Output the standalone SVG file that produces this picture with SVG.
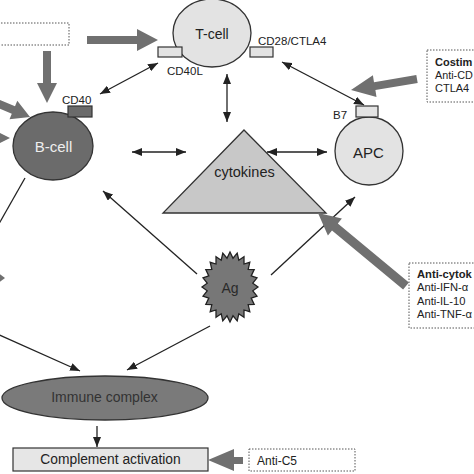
<svg xmlns="http://www.w3.org/2000/svg" width="474" height="474" viewBox="0 0 474 474">
<style>
text{font-family:"Liberation Sans",Arial,sans-serif;fill:#222}
.lbl{font-size:11.5px}
.c{text-anchor:middle}
.cell{stroke:#333;stroke-width:1.3}
.dot{fill:#fff;stroke:#555;stroke-width:1;stroke-dasharray:1.5 1.5}
.thin{stroke:#222;stroke-width:1.3;fill:none}
.gray{fill:#707070;stroke:none}
.box{stroke:#333;stroke-width:1.2}
.bt{font-size:11px}
.bt2{font-size:11.2px}
</style>
<defs>
<marker id="ah" viewBox="0 0 10 8" markerWidth="10" markerHeight="8" refX="10" refY="4" orient="auto-start-reverse" markerUnits="userSpaceOnUse">
<path d="M0,0 L10,4 L0,8 z" fill="#222"/>
</marker>
</defs>
<rect width="474" height="474" fill="#fff"/>

<g id="left-box"><rect class="dot" x="-5" y="23" width="74" height="22"/></g>

<g id="tcell">
<ellipse class="cell" cx="212" cy="33" rx="39" ry="34" fill="#e3e3e3"/>
<text class="c" x="212" y="39" font-size="14">T-cell</text>
<rect class="box" x="158" y="47" width="24" height="10" fill="#e3e3e3"/>
<text class="lbl" x="167" y="75">CD40L</text>
<rect class="box" x="250" y="47" width="23" height="10" fill="#e3e3e3"/>
<text class="lbl" x="258" y="45">CD28/CTLA4</text>
</g>

<g id="bcell">
<ellipse class="cell" cx="53" cy="146" rx="40" ry="34" fill="#6b6b6b"/>
<text class="c" x="53.5" y="152" font-size="15" style="fill:#eee">B-cell</text>
<rect class="box" x="68" y="106" width="24" height="11" fill="#6b6b6b"/>
<text class="lbl" x="62" y="104">CD40</text>
</g>

<g id="apc">
<circle class="cell" cx="369" cy="151" r="34" fill="#e3e3e3"/>
<text class="c" x="368.5" y="158" font-size="15">APC</text>
<rect class="box" x="356" y="106" width="22" height="11" fill="#e3e3e3"/>
<text class="lbl" x="333" y="119">B7</text>
</g>

<g id="cytokines">
<polygon class="cell" points="244,130 326,213 163,213" fill="#c8c8c8"/>
<text class="c" x="244.5" y="177" font-size="14.5">cytokines</text>
</g>

<g id="ag">
<polygon points="258,287 252.8,290.8 257,296.1 251.2,298.1 254.2,304.5 248.2,304.7 249.8,311.7 244,310 244,317.3 238.8,313.8 237.2,320.8 233,315.8 230,322 227,315.8 222.8,320.8 221.2,313.8 216,317.3 216,310 210.2,311.7 211.8,304.7 205.8,304.5 208.8,298.1 203,296.1 207.2,290.8 202,287 207.2,283.2 203,277.9 208.8,275.9 205.8,269.5 211.8,269.3 210.2,262.3 216,264 216,256.7 221.2,260.2 222.8,253.2 227,258.2 230,252 233,258.2 237.2,253.2 238.8,260.2 244,256.7 244,264 249.8,262.3 248.2,269.3 254.2,269.5 251.2,275.9 257,277.9 252.8,283.2" fill="#777" stroke="#222" stroke-width="1.3" stroke-linejoin="miter"/>
<text class="c" x="230" y="293" font-size="14" style="fill:#2a2a2a">Ag</text>
</g>

<g id="immune-complex">
<ellipse class="cell" cx="105" cy="398" rx="103" ry="22" fill="#7a7a7a"/>
<text class="c" x="104.5" y="402" font-size="14" style="fill:#333">Immune complex</text>
</g>

<g id="complement">
<rect class="box" x="13" y="448" width="195" height="23" fill="#e6e6e6"/>
<text class="c" x="110.5" y="464" font-size="13.8">Complement activation</text>
</g>

<g id="costim-box">
<rect class="dot" x="427" y="50" width="60" height="52"/>
<text class="bt" x="435" y="66" font-weight="bold">Costim</text>
<text class="bt" x="435" y="79" font-size="10.8" style="font-size:10.8px">Anti-CD</text>
<text class="bt" x="435" y="92">CTLA4</text>
</g>

<g id="anticytokine-box">
<rect class="dot" x="409" y="263" width="80" height="65"/>
<text class="bt2" x="417" y="278" font-weight="bold">Anti-cytok</text>
<text class="bt2" x="417" y="291">Anti-IFN-α</text>
<text class="bt2" x="417" y="305">Anti-IL-10</text>
<text class="bt2" x="417" y="318">Anti-TNF-α</text>
</g>

<g id="antic5-box">
<rect class="dot" x="249" y="449" width="106" height="22"/>
<text x="257" y="465" font-size="12">Anti-C5</text>
</g>

<g id="connectors">
<line class="thin" x1="158" y1="63" x2="100" y2="94" marker-start="url(#ah)" marker-end="url(#ah)"/>
<line class="thin" x1="227" y1="74" x2="227" y2="122" marker-start="url(#ah)" marker-end="url(#ah)"/>
<line class="thin" x1="132" y1="152" x2="186" y2="152" marker-start="url(#ah)" marker-end="url(#ah)"/>
<line class="thin" x1="267" y1="152" x2="327" y2="152" marker-start="url(#ah)" marker-end="url(#ah)"/>
<line class="thin" x1="282" y1="62" x2="364" y2="105" marker-start="url(#ah)" marker-end="url(#ah)"/>
<line class="thin" x1="197" y1="274" x2="103" y2="191" marker-end="url(#ah)"/>
<line class="thin" x1="271" y1="275" x2="355" y2="197" marker-end="url(#ah)"/>
<line class="thin" x1="210" y1="326" x2="127" y2="370" marker-end="url(#ah)"/>
<line class="thin" x1="-5" y1="333" x2="80" y2="371" marker-end="url(#ah)"/>
<line class="thin" x1="25" y1="178" x2="-4" y2="229"/>
<line class="thin" x1="97" y1="426" x2="97" y2="447" marker-end="url(#ah)"/>

<polygon class="gray" points="87,36 137,36 137,29 158,40 137,51 137,44 87,44"/>
<polygon class="gray" points="43,51 51,51 51,83 57,83 47,103 37,83 43,83"/>
<polygon class="gray" points="416.3,75.1 374,82.2 372.9,75.2 351,90 376.5,97 375.4,90 417.7,82.9"/>
<polygon class="gray" points="408.9,282.5 337.8,223.6 341.9,218.6 318,213 327.9,235.6 332,230.6 403.1,289.5"/>
<polygon class="gray" points="243,457 234,457 234,449 208,460 234,471 234,464 243,464"/>
<polygon class="gray" points="-8.4,96.3 15,106.3 17.3,100.8 30,117 9.5,119.2 11.8,113.7 -11.6,103.7"/>
<polygon class="gray" points="-10,128 10,138 -10,148"/>
<polygon class="gray" points="-6,270 5,278 -6,286"/>
</g>
</svg>
